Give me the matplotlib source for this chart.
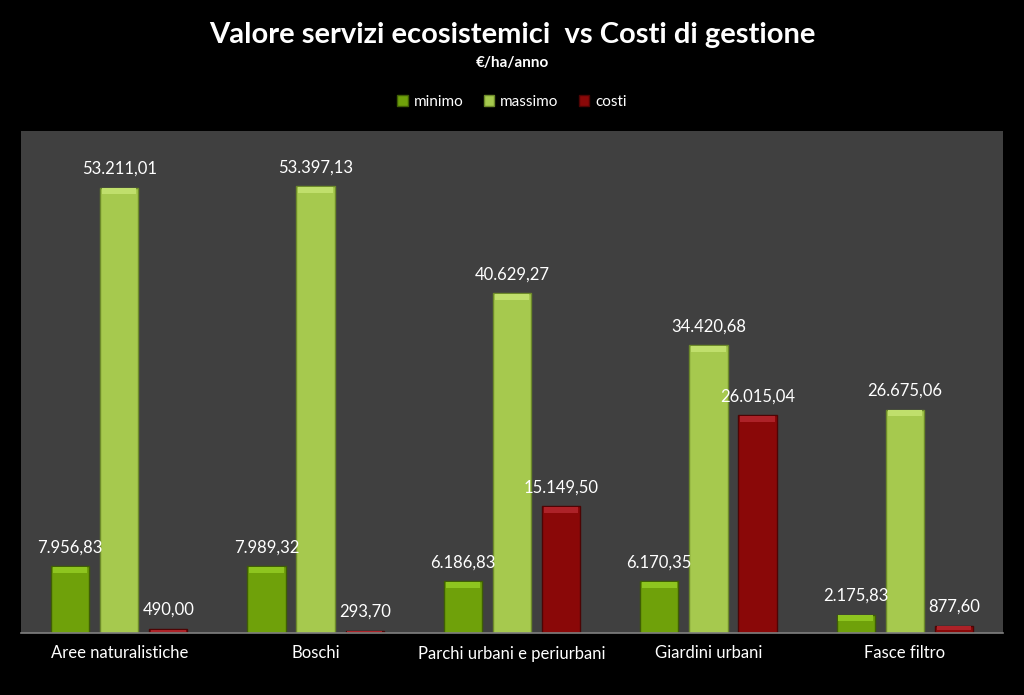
import matplotlib
matplotlib.use("Agg")
import matplotlib.pyplot as plt
import numpy as np

categories = ["Aree naturalistiche", "Boschi", "Parchi urbani e periurbani",
              "Giardini urbani", "Fasce filtro"]
minimo = [7956.83, 7989.32, 6186.83, 6170.35, 2175.83]
massimo = [53211.01, 53397.13, 40629.27, 34420.68, 26675.06]
costi = [490.00, 293.70, 15149.50, 26015.04, 877.60]
series_names = ["minimo", "massimo", "costi"]
colors = ["#6fa10a", "#a6c94e", "#8a0808"]
tops = ["#8ec51f", "#c0df6c", "#ad2228"]
edges = ["#3f5e05", "#6d8a2a", "#4e0404"]

plt.rcParams['font.family'] = ['Lato', 'DejaVu Sans']

fig = plt.figure(figsize=(10.24, 6.95), dpi=100, facecolor="black")
ax = fig.add_axes([21/1024, (695-633)/695, 982/1024, 502/695])
ax.set_facecolor("#404040")

def fmt(v):
    s = f"{v:,.2f}"
    return s.replace(",", "X").replace(".", ",").replace("X", ".")

x = np.arange(len(categories))
offs = [-0.25, 0.0, 0.25]
w = 0.195
for data, off, c, tc, ec, name in zip([minimo, massimo, costi], offs, colors, tops, edges, series_names):
    ax.bar(x + off, data, width=w, color=c, edgecolor=ec, linewidth=1.0, label=name, zorder=2)
    for xi, v in zip(x + off, data):
        # subtle bevel highlight on top
        hh = min(v * 0.5, 700)
        ax.bar(xi, hh, bottom=v - hh - 80, width=w * 0.9, color=tc, linewidth=0, zorder=3)
        ax.text(xi, v + 1300, fmt(v), ha="center", va="bottom", color="white", fontsize=12, zorder=4)

ax.set_xlim(-0.5, len(categories) - 0.5)
ax.set_ylim(0, 60000)
ax.set_yticks([])
ax.set_xticks(x)
ax.set_xticklabels(categories, color="white", fontsize=12)
ax.tick_params(axis="x", length=0, pad=9)
for s in ["top", "right", "left"]:
    ax.spines[s].set_visible(False)
ax.spines["bottom"].set_color("#808080")
ax.spines["bottom"].set_linewidth(1.2)

fig.text(0.5, 1 - 35/695, "Valore servizi ecosistemici  vs Costi di gestione", ha="center", va="center",
         color="white", fontsize=21, fontweight="bold")
fig.text(0.5, 1 - 63/695, "€/ha/anno", ha="center", va="center", color="white", fontsize=11, fontweight="bold")

leg = fig.legend(loc="center", bbox_to_anchor=(0.5, 1 - 102/695), ncol=3, frameon=False,
                 fontsize=11, labelcolor="white", handlelength=0.7, handleheight=0.7,
                 handletextpad=0.4, columnspacing=1.3)

fig.savefig("out.png", dpi=100, facecolor="black")
